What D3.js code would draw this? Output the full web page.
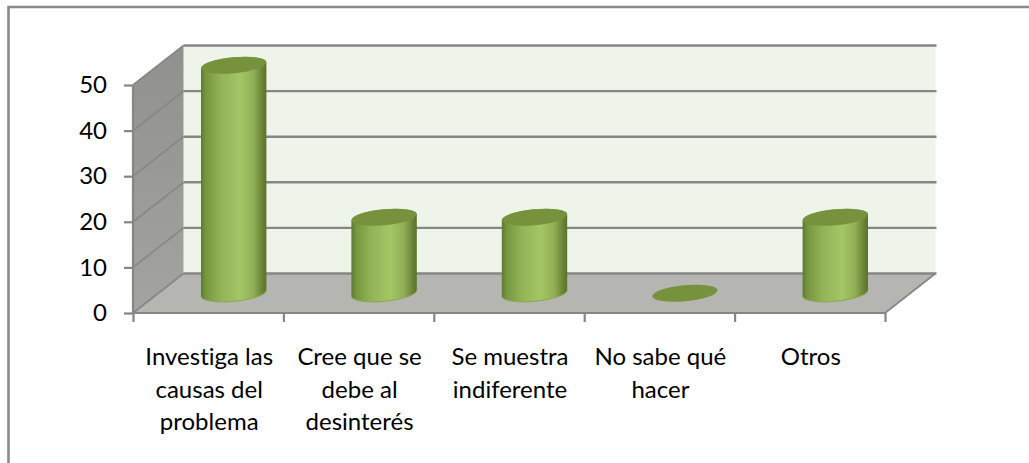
<!DOCTYPE html>
<html><head><meta charset="utf-8">
<script src="https://cdn.jsdelivr.net/npm/d3@7"></script>
<style>html,body{margin:0;padding:0;background:#fff}svg{display:block}text{font-family:Lato,"Open Sans",sans-serif;fill:#000;font-variant-ligatures:none}</style>
</head><body><svg id="c" width="1029" height="463"></svg>
<script>
const categories=[["Investiga las","causas del","problema"],["Cree que se","debe al","desinterés"],["Se muestra","indiferente"],["No sabe qué","hacer"],["Otros"]];
const values=[50,16.67,16.67,0,16.67];
const yTicks=[0,10,20,30,40,50];

const svg=d3.select("#c");
const x=d3.scaleBand().domain(d3.range(categories.length)).range([133,885]);
const y=d3.scaleLinear().domain([0,50]).range([313,85]);
const dx=50.5,dy=-39.5;
const axisCol="#868686";

const defs=svg.append("defs");
const g1=defs.append("linearGradient").attr("id","body");
[[0,"#5c7a2e"],[.07,"#76953f"],[.3,"#93b357"],[.6,"#a4c665"],[.8,"#91af56"],[.95,"#667f33"],[1,"#5a732c"]]
 .forEach(s=>g1.append("stop").attr("offset",s[0]).attr("stop-color",s[1]));
const g2=defs.append("linearGradient").attr("id","wall").attr("x1",0).attr("x2",0).attr("y1",0).attr("y2",1);
[[0,"#90918d"],[1,"#a3a4a0"]].forEach(s=>g2.append("stop").attr("offset",s[0]).attr("stop-color",s[1]));

svg.append("path").attr("d","M8.5,463V7H1029").attr("fill","none").attr("stroke","#8a8a8a").attr("stroke-width",2.6);

const x0=x.range()[0],x1=x.range()[1],y0=y(0),yt=y(50);
const poly=p=>"M"+p.map(d=>d.join(",")).join("L")+"Z";
svg.append("path").attr("d",poly([[x0+dx,yt+dy],[x1+dx,yt+dy],[x1+dx,y0+dy],[x0+dx,y0+dy]])).attr("fill","#eef4ea");
svg.append("path").attr("d",poly([[x0,y0],[x0+dx,y0+dy],[x0+dx,yt+dy],[x0,yt]])).attr("fill","url(#wall)");
svg.append("path").attr("d",poly([[x0,y0],[x1,y0],[x1+dx,y0+dy],[x0+dx,y0+dy]])).attr("fill","#b5b6b2");

const grid=svg.append("g").attr("fill","none").attr("stroke",axisCol);
yTicks.forEach(t=>{
  grid.append("path").attr("stroke-width",1.6).attr("d",`M${x0},${y(t)}L${x0+dx},${y(t)+dy}`);
  grid.append("path").attr("stroke-width",2.4).attr("d",`M${x0+dx},${y(t)+dy}L${x1+dx+1},${y(t)+dy}`);
});
grid.append("path").attr("stroke-width",1.6).attr("d",`M${x1},${y0}L${x1+dx},${y0+dy}`);

const yAxis=d3.axisLeft(y).tickValues(yTicks).tickSize(9).tickPadding(17);
const ya=svg.append("g").attr("transform",`translate(${x0},0)`).call(yAxis);
const xAxis=d3.axisBottom(d3.scaleLinear().domain([0,categories.length]).range([x0,x1])).ticks(categories.length).tickSize(9).tickFormat("");
const xa=svg.append("g").attr("transform",`translate(0,${y0})`).call(xAxis);
[ya,xa].forEach(a=>a.selectAll("path,line").attr("stroke",axisCol).attr("stroke-width",2.2));
ya.select(".domain").attr("d",`M0,${y0}V${yt}`);
xa.select(".domain").attr("d",`M${x0},0H${x1}`);
ya.selectAll("text").attr("font-size",24).attr("font-family",null);

const rx=32.7,ry=8,rot=-5.5;
const tipDy=3;
const cxOf=i=>x(i)+x.bandwidth()/2+25.5;
const base=y0+dy/2;
const bars=svg.append("g").selectAll("g").data(values).join("g");
bars.each(function(v,i){
  const g=d3.select(this),cx=cxOf(i),yb=y(v)+dy/2,arc=`A${rx},${ry} ${rot} 0 0`;
  if(v>0){
    g.append("path").attr("d",`M${cx-rx},${yb+tipDy}L${cx-rx},${base+tipDy}${arc} ${cx+rx},${base-tipDy}L${cx+rx},${yb-tipDy}${arc} ${cx-rx},${yb+tipDy}Z`).attr("fill","url(#body)");
    g.append("path").attr("d",`M${cx-rx},${base+tipDy}${arc} ${cx+rx},${base-tipDy}`).attr("fill","none").attr("stroke","#8aa84c").attr("stroke-width",1);
  }
  g.append("ellipse").attr("cx",cx).attr("cy",yb).attr("rx",rx).attr("ry",ry).attr("transform",`rotate(${rot} ${cx} ${yb})`).attr("fill","#76923c");
});

const lab=svg.append("g").attr("text-anchor","middle").attr("font-size",24);
categories.forEach((c,i)=>c.forEach((l,j)=>{
  lab.append("text").attr("x",x(i)+x.bandwidth()/2+1).attr("y",365+j*32.5).text(l);
}));
</script></body></html>
